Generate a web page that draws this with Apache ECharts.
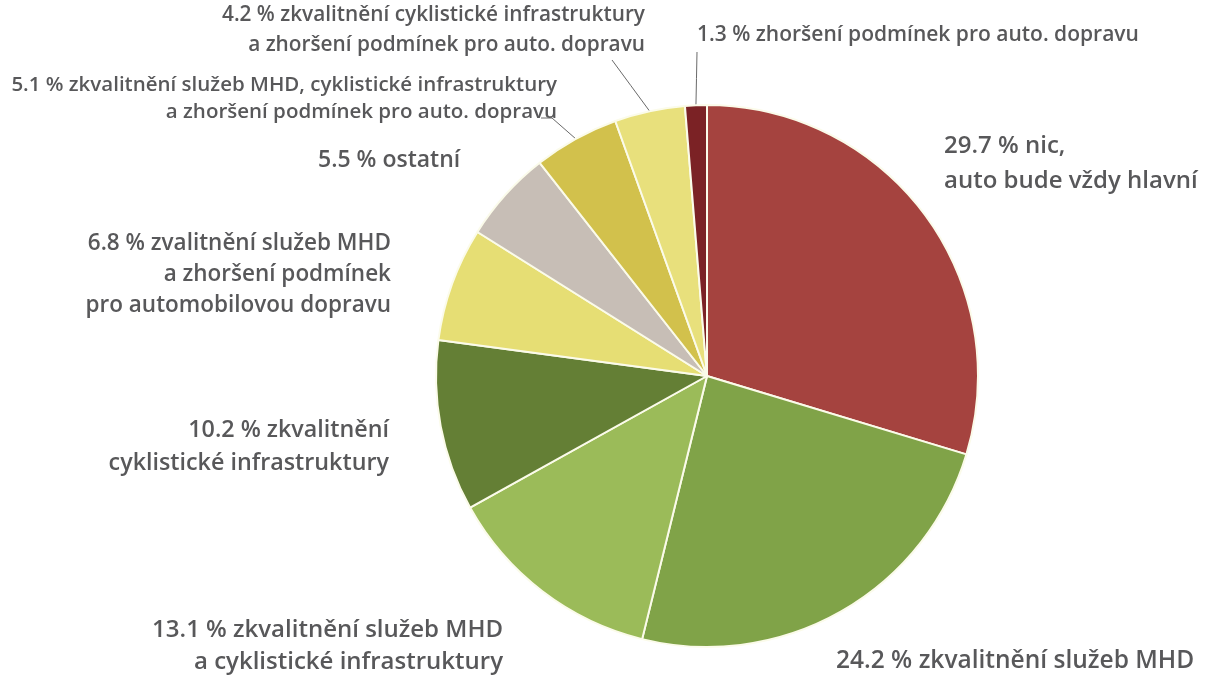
<!DOCTYPE html>
<html>
<head>
<meta charset="utf-8">
<script src="https://cdn.jsdelivr.net/npm/echarts@6/dist/echarts.min.js"></script>
<style>
  html, body { margin: 0; padding: 0; background: #fff; }
  #main { width: 1205px; height: 677px; }
</style>
</head>
<body>
<div id="main"></div>
<script>
// hodnoty v procentech, po směru hodinových ručiček od vrcholu
var shares = [29.7, 24.2, 13.1, 10.2, 6.8, 5.5, 5.1, 4.2, 1.3];
var labels = [
    'nic,\nauto bude vždy hlavní',
    'zkvalitnění služeb MHD',
    'zkvalitnění služeb MHD\na cyklistické infrastruktury',
    'zkvalitnění\ncyklistické infrastruktury',
    'zvalitnění služeb MHD\na zhoršení podmínek\npro automobilovou dopravu',
    'ostatní',
    'zkvalitnění služeb MHD, cyklistické infrastruktury\na zhoršení podmínek pro auto. dopravu',
    'zkvalitnění cyklistické infrastruktury\na zhoršení podmínek pro auto. dopravu',
    'zhoršení podmínek pro auto. dopravu'
];
var colors = ['#a5433f', '#80a348', '#9bbb59', '#647f35', '#e6de74', '#c7beb6', '#d2c14c', '#e8e07c', '#7b2225'];

// umístění popisků (x, y, zarovnání, velikost písma, řádkování, body vodicí čáry)
var labelPos = [
    {x: 944, y: 129, align: 'left',  fs: 24,   lh: 35},
    {x: 836, y: 645, align: 'left',  fs: 24.5, lh: 32},
    {x: 503, y: 614, align: 'right', fs: 24,   lh: 32},
    {x: 389, y: 414, align: 'right', fs: 23.3, lh: 33},
    {x: 391, y: 228, align: 'right', fs: 22.5, lh: 31},
    {x: 318, y: 145, align: 'left',  fs: 23,   lh: 30},
    {x: 557, y: 72,  align: 'right', fs: 20.5, lh: 27, line: [[552, 118], [541, 118]]},
    {x: 645, y: 0,   align: 'right', fs: 20.8, lh: 30, line: [[612, 60]]},
    {x: 697, y: 20,  align: 'left',  fs: 21,   lh: 30, line: [[697, 52]]}
];

var data = shares.map(function (v, i) {
    return {
        value: v,
        name: v.toFixed(1) + ' % ' + labels[i],
        itemStyle: {color: colors[i]},
        label: {
            fontSize: labelPos[i].fs,
            lineHeight: labelPos[i].lh,
            align: labelPos[i].align
        },
        labelLine: {show: !!labelPos[i].line}
    };
});

var chart = echarts.init(document.getElementById('main'));
var option = {
    backgroundColor: '#ffffff',
    animation: false,
    series: [{
        type: 'pie',
        center: [707, 376],
        radius: 271,
        startAngle: 90,
        clockwise: true,
        data: data,
        itemStyle: {
            borderColor: '#fbfbea',
            borderWidth: 2
        },
        label: {
            show: true,
            position: 'outside',
            formatter: '{b}',
            color: '#58585a',
            fontFamily: 'Open Sans',
            fontWeight: 600,
            overflow: 'none'
        },
        labelLine: {
            lineStyle: {color: '#6a6a6a', width: 1}
        },
        labelLayout: function (params) {
            var p = labelPos[params.dataIndex];
            var res = {
                x: p.x,
                y: p.y,
                align: p.align,
                verticalAlign: 'top'
            };
            if (p.line && params.labelLinePoints) {
                var s = params.labelLinePoints[0];
                var pts = [s].concat(p.line);
                if (pts.length < 3) {
                    var e = pts[1];
                    pts = [s, [(s[0] + e[0]) / 2, (s[1] + e[1]) / 2], e];
                }
                res.labelLinePoints = pts;
            }
            return res;
        }
    }]
};
chart.setOption(option);
</script>
</body>
</html>
